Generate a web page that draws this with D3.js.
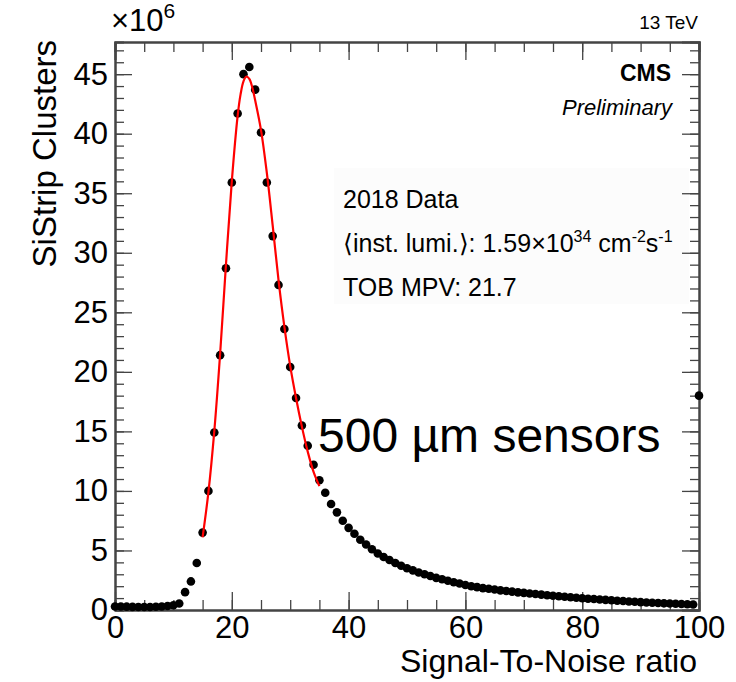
<!DOCTYPE html>
<html>
<head>
<meta charset="utf-8">
<script src="https://cdn.jsdelivr.net/npm/d3@7/dist/d3.min.js"></script>
<style>
  body { margin: 0; background: #fff; }
  svg { font-family: "Liberation Sans", Arial, Helvetica, sans-serif; }
  .axis path { stroke: #444; stroke-width: 2; }
  .axis line { stroke: #444; stroke-width: 1.3; }
  .axis text { font-size: 31px; fill: #000; }
  .datum { fill: #000; }
  .fit { stroke: #f00; stroke-width: 2.2; fill: none; }
</style>
</head>
<body>
<svg></svg>
<script>
// S/N bins (1 unit wide, centres 0..100) and cluster counts in units of 1e6
var snBins = d3.range(0, 101);
var clusters = [
  0.30, 0.30, 0.28, 0.26, 0.25, 0.25, 0.25, 0.27, 0.30, 0.33,
  0.40, 0.55, 1.50, 2.40, 3.95, 6.50, 10.0, 14.9, 21.4, 28.7,
  35.9, 41.7, 45.0, 45.6, 43.7, 40.1, 35.9, 31.4, 27.3, 23.6,
  20.4, 17.8, 15.5, 13.8, 12.2, 10.9, 9.85, 8.90, 8.20, 7.50,
  6.90, 6.40, 5.90, 5.50, 5.10, 4.75, 4.45, 4.20, 3.95, 3.72,
  3.50, 3.33, 3.15, 3.00, 2.85, 2.70, 2.58, 2.46, 2.33, 2.22,
  2.10, 2.00, 1.92, 1.84, 1.78, 1.72, 1.65, 1.60, 1.54, 1.48,
  1.44, 1.39, 1.34, 1.29, 1.24, 1.20, 1.15, 1.11, 1.07, 1.03,
  0.99, 0.95, 0.92, 0.88, 0.85, 0.82, 0.78, 0.75, 0.72, 0.69,
  0.66, 0.63, 0.61, 0.59, 0.56, 0.54, 0.52, 0.50, 0.48, 0.46,
  18.0
];

// Landau x Gauss fit
var fitX = [15, 16, 17, 18, 19, 20, 21, 21.5, 22, 22.5, 23, 23.5, 24, 25, 26, 27, 28, 29, 30, 31, 32, 33, 34, 35];
var fitY = [6.1, 9.9, 15.0, 21.5, 29.0, 36.0, 41.5, 43.3, 44.4, 44.8, 44.6, 43.9, 42.8, 40.3, 36.7, 32.3, 27.7, 23.8, 20.5, 17.8, 15.4, 13.3, 11.6, 10.4];

var xMajor = [0, 20, 40, 60, 80, 100];
var xMinor = d3.range(0, 101, 5);
var yMajor = [0, 5, 10, 15, 20, 25, 30, 35, 40, 45];
var yMinor = d3.range(0, 48, 1);

var legendLines = ["2018 Data", "TOB MPV: 21.7"];

var W = 736, H = 682;
var plotL = 115, plotR = 699, plotT = 42, plotB = 610;

var svg = d3.select("svg").attr("width", W).attr("height", H);

var x = d3.scaleLinear().domain([0, 100]).range([plotL, plotR]);
var y = d3.scaleLinear().domain([0, 47.7]).range([plotB, plotT]);

// faint legend box
svg.append("rect")
  .attr("x", 334).attr("y", 168).attr("width", 355).attr("height", 136)
  .attr("fill", "#fcfcfc");

// axes
svg.append("g").attr("class", "axis")
  .attr("transform", "translate(0," + plotB + ")")
  .call(d3.axisBottom(x).tickValues(xMinor).tickSize(-10).tickFormat(""));
svg.append("g").attr("class", "axis")
  .attr("transform", "translate(0," + plotB + ")")
  .call(d3.axisBottom(x).tickValues(xMajor).tickSizeInner(-18).tickSizeOuter(0).tickPadding(6).tickFormat(d3.format("d")));
svg.append("g").attr("class", "axis")
  .attr("transform", "translate(0," + plotT + ")")
  .call(d3.axisTop(x).tickValues(xMinor).tickSize(-10).tickFormat(""));
svg.append("g").attr("class", "axis")
  .attr("transform", "translate(0," + plotT + ")")
  .call(d3.axisTop(x).tickValues(xMajor).tickSize(-18).tickFormat(""));

svg.append("g").attr("class", "axis")
  .attr("transform", "translate(" + plotL + ",0)")
  .call(d3.axisLeft(y).tickValues(yMinor).tickSize(-9).tickFormat(""));
svg.append("g").attr("class", "axis")
  .attr("transform", "translate(" + plotL + ",0)")
  .call(d3.axisLeft(y).tickValues(yMajor).tickSizeInner(-17).tickSizeOuter(0).tickPadding(7).tickFormat(d3.format("d")));
svg.append("g").attr("class", "axis")
  .attr("transform", "translate(" + plotR + ",0)")
  .call(d3.axisRight(y).tickValues(yMinor).tickSize(-9).tickFormat(""));
svg.append("g").attr("class", "axis")
  .attr("transform", "translate(" + plotR + ",0)")
  .call(d3.axisRight(y).tickValues(yMajor).tickSize(-17).tickFormat(""));

// data points
svg.selectAll("circle.datum")
  .data(snBins)
  .enter().append("circle")
  .attr("class", "datum")
  .attr("cx", d => x(d))
  .attr("cy", (d, i) => y(clusters[i]))
  .attr("r", 4.3);

// fit line
var line = d3.line()
  .curve(d3.curveCatmullRom)
  .x((d, i) => x(fitX[i]))
  .y(d => y(d));
svg.append("path").attr("class", "fit").attr("d", line(fitY));

// labels
svg.append("text")
  .attr("x", plotR - 2).attr("y", 672)
  .attr("text-anchor", "end").attr("font-size", 32)
  .text("Signal-To-Noise ratio");

svg.append("text")
  .attr("transform", "translate(56," + (plotT - 2) + ") rotate(-90)")
  .attr("text-anchor", "end").attr("font-size", 33)
  .text("SiStrip Clusters");

var exp = svg.append("text").attr("x", 111).attr("y", 31).attr("font-size", 31);
exp.append("tspan").text("\u00d710");
exp.append("tspan").attr("font-size", 21).attr("dy", -13).text("6");

svg.append("text")
  .attr("x", plotR - 1).attr("y", 29)
  .attr("text-anchor", "end").attr("font-size", 19)
  .text("13 TeV");

svg.append("text")
  .attr("x", 671).attr("y", 81)
  .attr("text-anchor", "end").attr("font-size", 23).attr("font-weight", "bold")
  .text("CMS");
svg.append("text")
  .attr("x", 672).attr("y", 115)
  .attr("text-anchor", "end").attr("font-size", 22).attr("font-style", "italic")
  .text("Preliminary");

svg.append("text").attr("x", 343).attr("y", 208).attr("font-size", 25).text(legendLines[0]);
var lumi = svg.append("text").attr("x", 343).attr("y", 252).attr("font-size", 25);
lumi.append("tspan").text("\u27e8inst. lumi.\u27e9: 1.59\u00d710");
lumi.append("tspan").attr("font-size", 16).attr("dy", -10).text("34");
lumi.append("tspan").attr("dy", 10).text(" cm");
lumi.append("tspan").attr("font-size", 16).attr("dy", -10).text("-2");
lumi.append("tspan").attr("dy", 10).text("s");
lumi.append("tspan").attr("font-size", 16).attr("dy", -10).text("-1");
svg.append("text").attr("x", 343).attr("y", 296).attr("font-size", 25).text(legendLines[1]);

svg.append("text")
  .attr("x", 318).attr("y", 452)
  .attr("font-size", 48)
  .text("500 \u00b5m sensors");
</script>
</body>
</html>
